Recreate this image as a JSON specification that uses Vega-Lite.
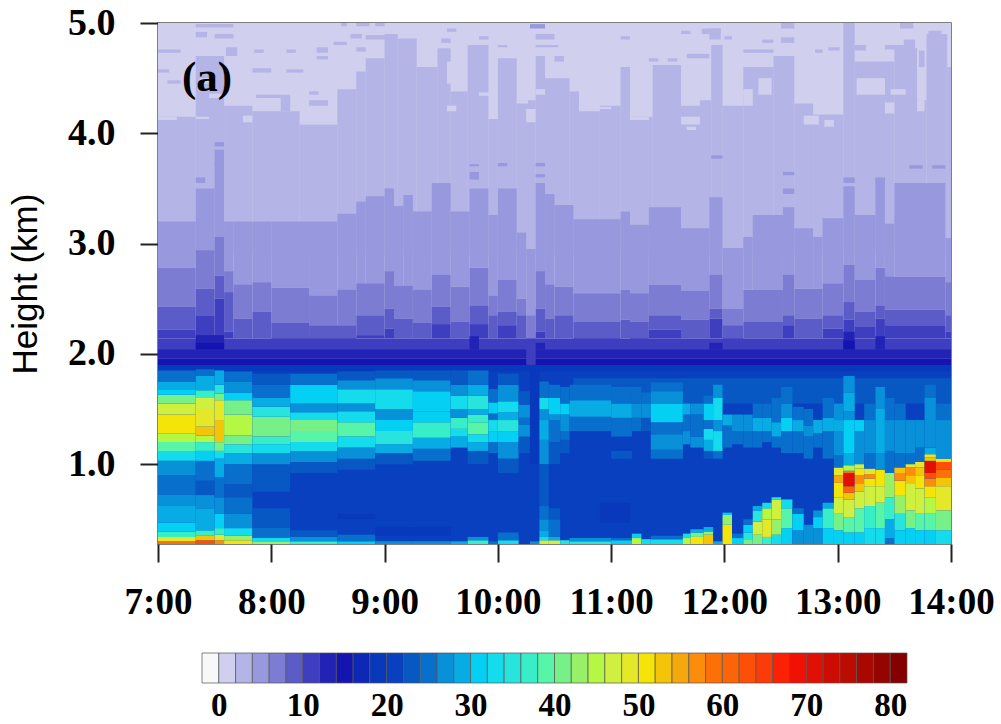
{"$schema":"https://vega.github.io/schema/vega-lite/v6.json","padding":{"left":7,"top":3,"right":5,"bottom":5},"background":"white","vconcat":[{"width":793,"height":521,"view":{"stroke":"#555","strokeWidth":1.5},"layer":[{"data":{"values":[
{"x0":420,"x1":840,"y0":0.27,"y1":5,"v":1},
{"x0":420,"x1":440,"y0":2.9,"y1":4.15,"v":3},{"x0":440,"x1":455,"y0":2.9,"y1":4.7,"v":3},{"x0":455,"x1":470,"y0":2.9,"y1":4.25,"v":3},{"x0":470,"x1":495,"y0":2.9,"y1":4.2,"v":3},{"x0":495,"x1":515,"y0":2.9,"y1":4.1,"v":3},{"x0":515,"x1":525,"y0":2.9,"y1":4.4,"v":3},{"x0":525,"x1":530,"y0":2.9,"y1":4.56,"v":3},{"x0":530,"x1":540,"y0":2.9,"y1":4.68,"v":3},{"x0":540,"x1":547,"y0":2.9,"y1":4.9,"v":3},{"x0":547,"x1":557,"y0":2.9,"y1":4.86,"v":3},{"x0":557,"x1":568,"y0":2.9,"y1":4.6,"v":3},{"x0":568,"x1":575,"y0":2.9,"y1":4.77,"v":3},{"x0":575,"x1":584,"y0":2.9,"y1":4.38,"v":3},{"x0":584,"x1":595,"y0":2.9,"y1":4.8,"v":3},{"x0":595,"x1":600,"y0":2.9,"y1":4.13,"v":3},{"x0":600,"x1":610,"y0":2.9,"y1":4.68,"v":3},{"x0":610,"x1":620,"y0":2.9,"y1":4.3,"v":3},{"x0":620,"x1":625,"y0":2.9,"y1":4.7,"v":3},{"x0":625,"x1":638,"y0":2.9,"y1":4.5,"v":3},{"x0":638,"x1":643,"y0":2.9,"y1":4.38,"v":3},{"x0":643,"x1":654,"y0":2.9,"y1":4.2,"v":3},{"x0":654,"x1":665,"y0":2.9,"y1":4.25,"v":3},{"x0":665,"x1":670,"y0":2.9,"y1":4.6,"v":3},{"x0":670,"x1":682,"y0":2.9,"y1":4.15,"v":3},{"x0":682,"x1":697,"y0":2.9,"y1":4.62,"v":3},{"x0":697,"x1":707,"y0":2.9,"y1":4.25,"v":3},{"x0":707,"x1":713,"y0":2.9,"y1":4.3,"v":3},{"x0":713,"x1":719,"y0":2.9,"y1":4.8,"v":3},{"x0":719,"x1":730,"y0":2.9,"y1":4.25,"v":3},{"x0":730,"x1":746,"y0":2.9,"y1":4.6,"v":3},{"x0":746,"x1":757,"y0":2.9,"y1":4.7,"v":3},{"x0":757,"x1":767,"y0":2.9,"y1":4.27,"v":3},{"x0":767,"x1":783,"y0":2.9,"y1":4.17,"v":3},{"x0":783,"x1":789,"y0":2.9,"y1":5,"v":3},{"x0":789,"x1":810,"y0":2.9,"y1":4.65,"v":3},{"x0":810,"x1":822,"y0":2.9,"y1":4.77,"v":3},{"x0":822,"x1":827,"y0":2.9,"y1":4.3,"v":3},{"x0":827,"x1":838,"y0":2.9,"y1":4.9,"v":3},{"x0":838,"x1":840,"y0":2.9,"y1":4.6,"v":3},
{"x0":420,"x1":432,"y0":4.73,"y1":4.76,"v":3},{"x0":440,"x1":460,"y0":4.96,"y1":4.99,"v":3},{"x0":440,"x1":446,"y0":4.87,"y1":4.92,"v":3},{"x0":450,"x1":460,"y0":4.86,"y1":4.9,"v":3},{"x0":456,"x1":462,"y0":4.7,"y1":4.78,"v":3},{"x0":420,"x1":426,"y0":4.55,"y1":4.58,"v":3},{"x0":425,"x1":432,"y0":4.45,"y1":4.48,"v":3},{"x0":470,"x1":480,"y0":4.55,"y1":4.59,"v":3},{"x0":471,"x1":476,"y0":4.73,"y1":4.76,"v":3},{"x0":488,"x1":493,"y0":4.73,"y1":4.76,"v":3},{"x0":488,"x1":497,"y0":4.55,"y1":4.58,"v":3},{"x0":472,"x1":485,"y0":4.32,"y1":4.35,"v":3},{"x0":485,"x1":490,"y0":4.2,"y1":4.35,"v":3},{"x0":500,"x1":505,"y0":4.35,"y1":4.38,"v":3},{"x0":500,"x1":510,"y0":4.25,"y1":4.3,"v":3},{"x0":504,"x1":510,"y0":4.73,"y1":4.78,"v":3},{"x0":504,"x1":510,"y0":4.67,"y1":4.7,"v":3},{"x0":513,"x1":520,"y0":4.8,"y1":4.83,"v":3},{"x0":517,"x1":520,"y0":4.97,"y1":5,"v":3},{"x0":525,"x1":532,"y0":4.97,"y1":5,"v":3},{"x0":535,"x1":540,"y0":4.97,"y1":5,"v":3},{"x0":522,"x1":528,"y0":4.86,"y1":4.9,"v":3},{"x0":530,"x1":545,"y0":4.85,"y1":4.89,"v":3},{"x0":525,"x1":530,"y0":4.74,"y1":4.78,"v":3},{"x0":620,"x1":630,"y0":4.85,"y1":4.9,"v":3},{"x0":620,"x1":632,"y0":4.78,"y1":4.8,"v":3},{"x0":570,"x1":575,"y0":4.82,"y1":4.86,"v":3},{"x0":573,"x1":578,"y0":4.92,"y1":4.95,"v":3},{"x0":590,"x1":595,"y0":4.85,"y1":4.88,"v":3},{"x0":600,"x1":605,"y0":4.78,"y1":4.8,"v":3},{"x0":630,"x1":635,"y0":4.65,"y1":4.7,"v":3},{"x0":665,"x1":670,"y0":4.85,"y1":4.88,"v":3},{"x0":680,"x1":685,"y0":4.65,"y1":4.68,"v":3},{"x0":690,"x1":695,"y0":4.65,"y1":4.68,"v":3},{"x0":700,"x1":712,"y0":4.68,"y1":4.72,"v":3},{"x0":712,"x1":718,"y0":4.85,"y1":4.95,"v":3},{"x0":697,"x1":702,"y0":4.9,"y1":4.93,"v":3},{"x0":708,"x1":718,"y0":4.9,"y1":4.95,"v":3},{"x0":720,"x1":724,"y0":4.85,"y1":4.88,"v":3},{"x0":730,"x1":746,"y0":4.73,"y1":4.76,"v":3},{"x0":750,"x1":757,"y0":4.95,"y1":5,"v":3},{"x0":740,"x1":746,"y0":4.82,"y1":4.85,"v":3},{"x0":750,"x1":757,"y0":4.82,"y1":4.87,"v":3},{"x0":768,"x1":772,"y0":4.73,"y1":4.76,"v":3},{"x0":775,"x1":781,"y0":4.75,"y1":4.78,"v":3},{"x0":789,"x1":795,"y0":4.75,"y1":4.8,"v":3},{"x0":805,"x1":815,"y0":4.76,"y1":4.8,"v":3},{"x0":813,"x1":820,"y0":4.95,"y1":5,"v":3},{"x0":815,"x1":821,"y0":4.75,"y1":4.85,"v":3},{"x0":823,"x1":826,"y0":4.6,"y1":4.75,"v":3},{"x0":828,"x1":835,"y0":4.9,"y1":4.93,"v":3},
{"x0":617,"x1":625,"y0":4.95,"y1":4.99,"v":5},
{"x0":447,"x1":455,"y0":4.32,"y1":4.36,"v":1},{"x0":442,"x1":450,"y0":4.45,"y1":4.5,"v":1},{"x0":420,"x1":430,"y0":4.12,"y1":4.15,"v":1},{"x0":440,"x1":447,"y0":4.13,"y1":4.15,"v":1},{"x0":465,"x1":470,"y0":4.1,"y1":4.16,"v":1},{"x0":495,"x1":515,"y0":4.08,"y1":4.1,"v":1},{"x0":573,"x1":578,"y0":4.2,"y1":4.25,"v":1},{"x0":573,"x1":578,"y0":4.45,"y1":4.65,"v":1},{"x0":590,"x1":597,"y0":4.34,"y1":4.37,"v":1},{"x0":610,"x1":616,"y0":4.27,"y1":4.3,"v":1},{"x0":615,"x1":620,"y0":4.1,"y1":4.22,"v":1},{"x0":620,"x1":625,"y0":4.35,"y1":4.4,"v":1},{"x0":650,"x1":660,"y0":4.22,"y1":4.24,"v":1},{"x0":670,"x1":680,"y0":4.12,"y1":4.15,"v":1},{"x0":697,"x1":707,"y0":4.08,"y1":4.15,"v":1},{"x0":700,"x1":705,"y0":4.03,"y1":4.06,"v":1},{"x0":730,"x1":735,"y0":4.25,"y1":4.4,"v":1},{"x0":738,"x1":745,"y0":4.35,"y1":4.5,"v":1},{"x0":790,"x1":805,"y0":4.35,"y1":4.5,"v":1},{"x0":805,"x1":810,"y0":4.18,"y1":4.28,"v":1},{"x0":808,"x1":816,"y0":4.35,"y1":4.4,"v":1},{"x0":822,"x1":826,"y0":4.2,"y1":4.3,"v":1},{"x0":762,"x1":770,"y0":4.08,"y1":4.16,"v":1},{"x0":773,"x1":778,"y0":4.06,"y1":4.12,"v":1},
{"x0":420,"x1":440,"y0":2.78,"y1":3.2,"v":5},{"x0":440,"x1":450,"y0":2.94,"y1":3.5,"v":5},{"x0":450,"x1":455,"y0":3.06,"y1":3.85,"v":5},{"x0":455,"x1":460,"y0":2.75,"y1":3.2,"v":5},{"x0":460,"x1":470,"y0":2.63,"y1":3.2,"v":5},{"x0":470,"x1":480,"y0":2.65,"y1":3.2,"v":5},{"x0":480,"x1":500,"y0":2.6,"y1":3.2,"v":5},{"x0":500,"x1":515,"y0":2.53,"y1":3.2,"v":5},{"x0":515,"x1":525,"y0":2.58,"y1":3.27,"v":5},{"x0":525,"x1":530,"y0":2.64,"y1":3.38,"v":5},{"x0":530,"x1":540,"y0":2.64,"y1":3.43,"v":5},{"x0":540,"x1":545,"y0":2.75,"y1":3.5,"v":5},{"x0":545,"x1":550,"y0":2.62,"y1":3.34,"v":5},{"x0":550,"x1":555,"y0":2.62,"y1":3.44,"v":5},{"x0":555,"x1":565,"y0":2.58,"y1":3.29,"v":5},{"x0":565,"x1":575,"y0":2.72,"y1":3.55,"v":5},{"x0":575,"x1":585,"y0":2.61,"y1":3.29,"v":5},{"x0":585,"x1":595,"y0":2.78,"y1":3.5,"v":5},{"x0":595,"x1":600,"y0":2.53,"y1":3.26,"v":5},{"x0":600,"x1":610,"y0":2.67,"y1":3.5,"v":5},{"x0":610,"x1":615,"y0":2.5,"y1":3.1,"v":5},{"x0":615,"x1":620,"y0":2.35,"y1":2.95,"v":5},{"x0":620,"x1":625,"y0":2.75,"y1":3.55,"v":5},{"x0":625,"x1":630,"y0":2.63,"y1":3.45,"v":5},{"x0":630,"x1":640,"y0":2.61,"y1":3.35,"v":5},{"x0":640,"x1":665,"y0":2.55,"y1":3.22,"v":5},{"x0":665,"x1":670,"y0":2.58,"y1":3.29,"v":5},{"x0":670,"x1":680,"y0":2.55,"y1":3.17,"v":5},{"x0":680,"x1":697,"y0":2.63,"y1":3.33,"v":5},{"x0":697,"x1":712,"y0":2.57,"y1":3.14,"v":5},{"x0":712,"x1":719,"y0":2.72,"y1":3.42,"v":5},{"x0":719,"x1":730,"y0":2.41,"y1":2.96,"v":5},{"x0":730,"x1":735,"y0":2.58,"y1":3.06,"v":5},{"x0":735,"x1":751,"y0":2.58,"y1":3.26,"v":5},{"x0":751,"x1":757,"y0":2.72,"y1":3.33,"v":5},{"x0":757,"x1":767,"y0":2.59,"y1":3.14,"v":5},{"x0":767,"x1":772,"y0":2.59,"y1":3.06,"v":5},{"x0":772,"x1":783,"y0":2.64,"y1":3.23,"v":5},{"x0":783,"x1":789,"y0":2.81,"y1":3.52,"v":5},{"x0":789,"x1":800,"y0":2.67,"y1":3.26,"v":5},{"x0":800,"x1":805,"y0":2.78,"y1":3.59,"v":5},{"x0":805,"x1":810,"y0":2.69,"y1":3.18,"v":5},{"x0":810,"x1":837,"y0":2.7,"y1":3.55,"v":5},{"x0":837,"x1":840,"y0":2.65,"y1":3.05,"v":5},
{"x0":450,"x1":455,"y0":3.88,"y1":3.92,"v":5},{"x0":450,"x1":455,"y0":3.7,"y1":3.73,"v":5},{"x0":440,"x1":445,"y0":3.55,"y1":3.6,"v":5},{"x0":585,"x1":590,"y0":3.7,"y1":3.72,"v":5},{"x0":600,"x1":605,"y0":3.7,"y1":3.73,"v":5},{"x0":620,"x1":625,"y0":3.7,"y1":3.73,"v":5},{"x0":620,"x1":625,"y0":3.6,"y1":3.63,"v":5},{"x0":585,"x1":590,"y0":3.58,"y1":3.65,"v":5},{"x0":713,"x1":719,"y0":3.77,"y1":3.8,"v":5},{"x0":783,"x1":789,"y0":3.55,"y1":3.6,"v":5},{"x0":800,"x1":805,"y0":3.55,"y1":3.6,"v":5},{"x0":818,"x1":825,"y0":3.68,"y1":3.71,"v":5},{"x0":830,"x1":837,"y0":3.68,"y1":3.71,"v":5},{"x0":751,"x1":757,"y0":3.62,"y1":3.65,"v":5},{"x0":751,"x1":757,"y0":3.45,"y1":3.5,"v":5},
{"x0":420,"x1":440,"y0":2.43,"y1":2.78,"v":7},{"x0":440,"x1":450,"y0":2.59,"y1":2.94,"v":7},{"x0":450,"x1":455,"y0":2.71,"y1":3.06,"v":7},{"x0":455,"x1":460,"y0":2.56,"y1":2.75,"v":7},{"x0":460,"x1":470,"y0":2.32,"y1":2.63,"v":7},{"x0":470,"x1":480,"y0":2.38,"y1":2.65,"v":7},{"x0":480,"x1":500,"y0":2.28,"y1":2.6,"v":7},{"x0":500,"x1":515,"y0":2.26,"y1":2.53,"v":7},{"x0":515,"x1":525,"y0":2.26,"y1":2.58,"v":7},{"x0":525,"x1":540,"y0":2.35,"y1":2.64,"v":7},{"x0":540,"x1":545,"y0":2.41,"y1":2.75,"v":7},{"x0":545,"x1":555,"y0":2.32,"y1":2.62,"v":7},{"x0":555,"x1":565,"y0":2.28,"y1":2.58,"v":7},{"x0":565,"x1":575,"y0":2.43,"y1":2.72,"v":7},{"x0":575,"x1":585,"y0":2.29,"y1":2.61,"v":7},{"x0":585,"x1":595,"y0":2.44,"y1":2.78,"v":7},{"x0":595,"x1":600,"y0":2.35,"y1":2.53,"v":7},{"x0":600,"x1":610,"y0":2.38,"y1":2.67,"v":7},{"x0":610,"x1":615,"y0":2.35,"y1":2.5,"v":7},{"x0":615,"x1":620,"y0":2.08,"y1":2.35,"v":7},{"x0":620,"x1":625,"y0":2.41,"y1":2.75,"v":7},{"x0":625,"x1":630,"y0":2.32,"y1":2.63,"v":7},{"x0":630,"x1":640,"y0":2.35,"y1":2.61,"v":7},{"x0":640,"x1":665,"y0":2.29,"y1":2.55,"v":7},{"x0":665,"x1":670,"y0":2.31,"y1":2.58,"v":7},{"x0":670,"x1":680,"y0":2.29,"y1":2.55,"v":7},{"x0":680,"x1":697,"y0":2.35,"y1":2.63,"v":7},{"x0":697,"x1":712,"y0":2.31,"y1":2.57,"v":7},{"x0":712,"x1":719,"y0":2.41,"y1":2.72,"v":7},{"x0":719,"x1":730,"y0":2.26,"y1":2.41,"v":7},{"x0":730,"x1":751,"y0":2.29,"y1":2.58,"v":7},{"x0":751,"x1":757,"y0":2.35,"y1":2.72,"v":7},{"x0":757,"x1":772,"y0":2.32,"y1":2.59,"v":7},{"x0":772,"x1":783,"y0":2.35,"y1":2.64,"v":7},{"x0":783,"x1":789,"y0":2.47,"y1":2.81,"v":7},{"x0":789,"x1":800,"y0":2.38,"y1":2.67,"v":7},{"x0":800,"x1":805,"y0":2.44,"y1":2.78,"v":7},{"x0":805,"x1":837,"y0":2.4,"y1":2.7,"v":7},{"x0":837,"x1":840,"y0":2.35,"y1":2.65,"v":7},
{"x0":420,"x1":440,"y0":2.22,"y1":2.43,"v":9},{"x0":440,"x1":450,"y0":2.35,"y1":2.59,"v":9},{"x0":450,"x1":455,"y0":2.5,"y1":2.71,"v":9},{"x0":455,"x1":460,"y0":2.2,"y1":2.56,"v":9},{"x0":460,"x1":470,"y0":2.14,"y1":2.32,"v":9},{"x0":470,"x1":480,"y0":2.14,"y1":2.38,"v":9},{"x0":480,"x1":500,"y0":2.13,"y1":2.28,"v":9},{"x0":500,"x1":525,"y0":2.1,"y1":2.26,"v":9},{"x0":525,"x1":540,"y0":2.17,"y1":2.35,"v":9},{"x0":540,"x1":545,"y0":2.23,"y1":2.41,"v":9},{"x0":545,"x1":555,"y0":2.14,"y1":2.32,"v":9},{"x0":555,"x1":565,"y0":2.14,"y1":2.28,"v":9},{"x0":565,"x1":575,"y0":2.27,"y1":2.43,"v":9},{"x0":575,"x1":585,"y0":2.14,"y1":2.29,"v":9},{"x0":585,"x1":595,"y0":2.27,"y1":2.44,"v":9},{"x0":595,"x1":600,"y0":2.14,"y1":2.35,"v":9},{"x0":600,"x1":610,"y0":2.26,"y1":2.38,"v":9},{"x0":610,"x1":615,"y0":2.14,"y1":2.35,"v":9},{"x0":615,"x1":620,"y0":2.05,"y1":2.08,"v":9},{"x0":620,"x1":625,"y0":2.2,"y1":2.41,"v":9},{"x0":625,"x1":630,"y0":2.14,"y1":2.32,"v":9},{"x0":630,"x1":640,"y0":2.14,"y1":2.35,"v":9},{"x0":640,"x1":665,"y0":2.13,"y1":2.29,"v":9},{"x0":665,"x1":670,"y0":2.14,"y1":2.31,"v":9},{"x0":670,"x1":680,"y0":2.13,"y1":2.29,"v":9},{"x0":680,"x1":697,"y0":2.22,"y1":2.35,"v":9},{"x0":697,"x1":712,"y0":2.14,"y1":2.31,"v":9},{"x0":712,"x1":719,"y0":2.32,"y1":2.41,"v":9},{"x0":719,"x1":730,"y0":2.1,"y1":2.26,"v":9},{"x0":730,"x1":751,"y0":2.14,"y1":2.29,"v":9},{"x0":751,"x1":757,"y0":2.26,"y1":2.35,"v":9},{"x0":757,"x1":772,"y0":2.14,"y1":2.32,"v":9},{"x0":772,"x1":783,"y0":2.23,"y1":2.35,"v":9},{"x0":783,"x1":789,"y0":2.31,"y1":2.47,"v":9},{"x0":789,"x1":800,"y0":2.25,"y1":2.38,"v":9},{"x0":800,"x1":805,"y0":2.32,"y1":2.44,"v":9},{"x0":805,"x1":837,"y0":2.26,"y1":2.4,"v":9},{"x0":837,"x1":840,"y0":2.2,"y1":2.35,"v":9},
{"x0":420,"x1":840,"y0":2.03,"y1":2.14,"v":11},{"x0":420,"x1":440,"y0":2.14,"y1":2.22,"v":11},{"x0":440,"x1":450,"y0":2.14,"y1":2.35,"v":11},{"x0":450,"x1":455,"y0":2.14,"y1":2.5,"v":11},{"x0":455,"x1":460,"y0":2.14,"y1":2.2,"v":11},{"x0":525,"x1":540,"y0":2.14,"y1":2.17,"v":11},{"x0":540,"x1":545,"y0":2.14,"y1":2.23,"v":11},{"x0":565,"x1":575,"y0":2.14,"y1":2.27,"v":11},{"x0":585,"x1":595,"y0":2.14,"y1":2.27,"v":11},{"x0":600,"x1":610,"y0":2.14,"y1":2.26,"v":11},{"x0":620,"x1":625,"y0":2.14,"y1":2.2,"v":11},{"x0":680,"x1":697,"y0":2.14,"y1":2.22,"v":11},{"x0":712,"x1":719,"y0":2.14,"y1":2.32,"v":11},{"x0":751,"x1":757,"y0":2.14,"y1":2.26,"v":11},{"x0":772,"x1":783,"y0":2.14,"y1":2.23,"v":11},{"x0":783,"x1":789,"y0":2.14,"y1":2.31,"v":11},{"x0":789,"x1":800,"y0":2.14,"y1":2.25,"v":11},{"x0":800,"x1":805,"y0":2.14,"y1":2.32,"v":11},{"x0":805,"x1":837,"y0":2.14,"y1":2.26,"v":11},{"x0":837,"x1":840,"y0":2.14,"y1":2.2,"v":11},
{"x0":420,"x1":840,"y0":1.96,"y1":2.04,"v":13},{"x0":440,"x1":455,"y0":2.04,"y1":2.17,"v":13},{"x0":585,"x1":590,"y0":2.04,"y1":2.16,"v":13},{"x0":620,"x1":625,"y0":2.04,"y1":2.1,"v":13},{"x0":712,"x1":719,"y0":2.04,"y1":2.1,"v":13},{"x0":783,"x1":789,"y0":2.04,"y1":2.2,"v":13},{"x0":800,"x1":805,"y0":2.04,"y1":2.16,"v":13},
{"x0":420,"x1":840,"y0":1.9,"y1":1.96,"v":15},{"x0":440,"x1":455,"y0":2.04,"y1":2.1,"v":15},{"x0":783,"x1":789,"y0":2.04,"y1":2.12,"v":15},{"x0":615,"x1":620,"y0":1.9,"y1":2.05,"v":11},
{"x0":420,"x1":840,"y0":0.27,"y1":1.9,"v":21},{"x0":420,"x1":840,"y0":1.84,"y1":1.9,"v":19},{"x0":640,"x1":840,"y0":1.55,"y1":1.78,"v":23},
{"x0":420,"x1":440,"y0":0.27,"y1":0.3,"v":59},{"x0":420,"x1":440,"y0":0.3,"y1":0.34,"v":49},{"x0":420,"x1":440,"y0":0.34,"y1":0.39,"v":37},{"x0":420,"x1":440,"y0":0.39,"y1":0.47,"v":31},{"x0":420,"x1":440,"y0":0.47,"y1":0.62,"v":29},{"x0":420,"x1":440,"y0":0.62,"y1":0.72,"v":27},{"x0":420,"x1":440,"y0":0.72,"y1":0.9,"v":25},{"x0":420,"x1":440,"y0":0.9,"y1":1.03,"v":27},{"x0":420,"x1":440,"y0":1.03,"y1":1.12,"v":33},{"x0":420,"x1":440,"y0":1.12,"y1":1.2,"v":39},{"x0":420,"x1":440,"y0":1.2,"y1":1.28,"v":45},{"x0":420,"x1":440,"y0":1.28,"y1":1.45,"v":51},{"x0":420,"x1":440,"y0":1.45,"y1":1.55,"v":47},{"x0":420,"x1":440,"y0":1.55,"y1":1.63,"v":41},{"x0":420,"x1":440,"y0":1.63,"y1":1.68,"v":31},{"x0":420,"x1":440,"y0":1.68,"y1":1.75,"v":29},{"x0":420,"x1":440,"y0":1.75,"y1":1.85,"v":25},
{"x0":440,"x1":450,"y0":0.27,"y1":0.31,"v":63},{"x0":440,"x1":450,"y0":0.31,"y1":0.35,"v":53},{"x0":440,"x1":450,"y0":0.35,"y1":0.4,"v":37},{"x0":440,"x1":450,"y0":0.4,"y1":0.6,"v":29},{"x0":440,"x1":450,"y0":0.6,"y1":0.72,"v":27},{"x0":440,"x1":450,"y0":0.72,"y1":0.85,"v":23},{"x0":440,"x1":450,"y0":0.85,"y1":1.03,"v":25},{"x0":440,"x1":450,"y0":1.03,"y1":1.12,"v":31},{"x0":440,"x1":450,"y0":1.12,"y1":1.2,"v":37},{"x0":440,"x1":450,"y0":1.2,"y1":1.26,"v":45},{"x0":440,"x1":450,"y0":1.26,"y1":1.34,"v":53},{"x0":440,"x1":450,"y0":1.34,"y1":1.5,"v":49},{"x0":440,"x1":450,"y0":1.5,"y1":1.6,"v":47},{"x0":440,"x1":450,"y0":1.6,"y1":1.67,"v":37},{"x0":440,"x1":450,"y0":1.67,"y1":1.8,"v":29},{"x0":440,"x1":450,"y0":1.8,"y1":1.86,"v":25},
{"x0":450,"x1":455,"y0":0.27,"y1":0.31,"v":57},{"x0":450,"x1":455,"y0":0.31,"y1":0.36,"v":49},{"x0":450,"x1":455,"y0":0.36,"y1":0.42,"v":37},{"x0":450,"x1":455,"y0":0.42,"y1":0.55,"v":31},{"x0":450,"x1":455,"y0":0.55,"y1":0.7,"v":27},{"x0":450,"x1":455,"y0":0.7,"y1":0.88,"v":25},{"x0":450,"x1":455,"y0":0.88,"y1":1.05,"v":29},{"x0":450,"x1":455,"y0":1.05,"y1":1.12,"v":33},{"x0":450,"x1":455,"y0":1.12,"y1":1.2,"v":41},{"x0":450,"x1":455,"y0":1.2,"y1":1.4,"v":53},{"x0":450,"x1":455,"y0":1.4,"y1":1.58,"v":49},{"x0":450,"x1":455,"y0":1.58,"y1":1.64,"v":41},{"x0":450,"x1":455,"y0":1.64,"y1":1.72,"v":35},{"x0":450,"x1":455,"y0":1.72,"y1":1.85,"v":29},
{"x0":455,"x1":470,"y0":0.27,"y1":0.31,"v":51},{"x0":455,"x1":470,"y0":0.31,"y1":0.35,"v":43},{"x0":455,"x1":470,"y0":0.35,"y1":0.42,"v":33},{"x0":455,"x1":470,"y0":0.42,"y1":0.55,"v":27},{"x0":455,"x1":470,"y0":0.55,"y1":0.7,"v":25},{"x0":455,"x1":470,"y0":0.7,"y1":0.82,"v":23},{"x0":455,"x1":470,"y0":0.82,"y1":1,"v":25},{"x0":455,"x1":470,"y0":1,"y1":1.1,"v":29},{"x0":455,"x1":470,"y0":1.1,"y1":1.18,"v":35},{"x0":455,"x1":470,"y0":1.18,"y1":1.26,"v":41},{"x0":455,"x1":470,"y0":1.26,"y1":1.45,"v":45},{"x0":455,"x1":470,"y0":1.45,"y1":1.58,"v":41},{"x0":455,"x1":470,"y0":1.58,"y1":1.65,"v":31},{"x0":455,"x1":470,"y0":1.65,"y1":1.75,"v":27},{"x0":455,"x1":470,"y0":1.75,"y1":1.84,"v":25},
{"x0":470,"x1":490,"y0":0.27,"y1":0.3,"v":43},{"x0":470,"x1":490,"y0":0.3,"y1":0.33,"v":33},{"x0":470,"x1":490,"y0":0.33,"y1":0.42,"v":25},{"x0":470,"x1":490,"y0":0.42,"y1":0.6,"v":23},{"x0":470,"x1":490,"y0":0.75,"y1":1,"v":23},{"x0":470,"x1":490,"y0":1,"y1":1.1,"v":27},{"x0":470,"x1":490,"y0":1.1,"y1":1.18,"v":33},{"x0":470,"x1":490,"y0":1.18,"y1":1.25,"v":37},{"x0":470,"x1":490,"y0":1.25,"y1":1.43,"v":41},{"x0":470,"x1":490,"y0":1.43,"y1":1.52,"v":35},{"x0":470,"x1":490,"y0":1.52,"y1":1.6,"v":29},{"x0":470,"x1":490,"y0":1.6,"y1":1.72,"v":25},{"x0":470,"x1":490,"y0":1.72,"y1":1.82,"v":23},
{"x0":490,"x1":515,"y0":0.27,"y1":0.3,"v":37},{"x0":490,"x1":515,"y0":0.3,"y1":0.34,"v":27},{"x0":490,"x1":515,"y0":0.34,"y1":0.4,"v":23},{"x0":490,"x1":515,"y0":0.92,"y1":1.02,"v":23},{"x0":490,"x1":515,"y0":1.02,"y1":1.12,"v":27},{"x0":490,"x1":515,"y0":1.12,"y1":1.2,"v":33},{"x0":490,"x1":515,"y0":1.2,"y1":1.3,"v":39},{"x0":490,"x1":515,"y0":1.3,"y1":1.4,"v":41},{"x0":490,"x1":515,"y0":1.4,"y1":1.47,"v":33},{"x0":490,"x1":515,"y0":1.47,"y1":1.55,"v":27},{"x0":490,"x1":515,"y0":1.55,"y1":1.72,"v":31},{"x0":490,"x1":515,"y0":1.72,"y1":1.82,"v":25},
{"x0":515,"x1":535,"y0":0.27,"y1":0.3,"v":31},{"x0":515,"x1":535,"y0":0.3,"y1":0.36,"v":25},{"x0":515,"x1":535,"y0":0.5,"y1":0.55,"v":19},{"x0":515,"x1":535,"y0":0.95,"y1":1.05,"v":23},{"x0":515,"x1":535,"y0":1.05,"y1":1.15,"v":27},{"x0":515,"x1":535,"y0":1.15,"y1":1.25,"v":33},{"x0":515,"x1":535,"y0":1.25,"y1":1.38,"v":39},{"x0":515,"x1":535,"y0":1.38,"y1":1.48,"v":33},{"x0":515,"x1":535,"y0":1.48,"y1":1.55,"v":27},{"x0":515,"x1":535,"y0":1.55,"y1":1.68,"v":33},{"x0":515,"x1":535,"y0":1.68,"y1":1.76,"v":27},{"x0":515,"x1":535,"y0":1.76,"y1":1.84,"v":23},
{"x0":535,"x1":555,"y0":0.27,"y1":0.3,"v":27},{"x0":535,"x1":555,"y0":0.35,"y1":0.43,"v":19},{"x0":535,"x1":555,"y0":1,"y1":1.1,"v":23},{"x0":535,"x1":555,"y0":1.1,"y1":1.18,"v":29},{"x0":535,"x1":555,"y0":1.18,"y1":1.3,"v":35},{"x0":535,"x1":555,"y0":1.3,"y1":1.4,"v":31},{"x0":535,"x1":555,"y0":1.4,"y1":1.5,"v":27},{"x0":535,"x1":555,"y0":1.5,"y1":1.68,"v":33},{"x0":535,"x1":555,"y0":1.68,"y1":1.78,"v":27},{"x0":535,"x1":555,"y0":1.78,"y1":1.85,"v":23},
{"x0":555,"x1":575,"y0":0.27,"y1":0.3,"v":27},{"x0":555,"x1":575,"y0":0.35,"y1":0.43,"v":19},{"x0":555,"x1":575,"y0":1.03,"y1":1.14,"v":25},{"x0":555,"x1":575,"y0":1.14,"y1":1.24,"v":29},{"x0":555,"x1":575,"y0":1.24,"y1":1.38,"v":37},{"x0":555,"x1":575,"y0":1.38,"y1":1.48,"v":31},{"x0":555,"x1":575,"y0":1.48,"y1":1.66,"v":31},{"x0":555,"x1":575,"y0":1.66,"y1":1.76,"v":27},{"x0":555,"x1":575,"y0":1.76,"y1":1.85,"v":23},
{"x0":575,"x1":584,"y0":0.27,"y1":0.3,"v":29},{"x0":575,"x1":584,"y0":1.15,"y1":1.25,"v":29},{"x0":575,"x1":584,"y0":1.25,"y1":1.32,"v":33},{"x0":575,"x1":584,"y0":1.32,"y1":1.42,"v":37},{"x0":575,"x1":584,"y0":1.42,"y1":1.5,"v":27},{"x0":575,"x1":584,"y0":1.5,"y1":1.62,"v":33},{"x0":575,"x1":584,"y0":1.62,"y1":1.72,"v":27},{"x0":575,"x1":584,"y0":1.72,"y1":1.85,"v":23},
{"x0":584,"x1":595,"y0":0.27,"y1":0.31,"v":37},{"x0":584,"x1":595,"y0":0.31,"y1":0.34,"v":27},{"x0":584,"x1":595,"y0":1,"y1":1.12,"v":23},{"x0":584,"x1":595,"y0":1.12,"y1":1.2,"v":29},{"x0":584,"x1":595,"y0":1.2,"y1":1.27,"v":33},{"x0":584,"x1":595,"y0":1.27,"y1":1.38,"v":39},{"x0":584,"x1":595,"y0":1.38,"y1":1.45,"v":37},{"x0":584,"x1":595,"y0":1.45,"y1":1.5,"v":29},{"x0":584,"x1":595,"y0":1.5,"y1":1.62,"v":35},{"x0":584,"x1":595,"y0":1.62,"y1":1.72,"v":29},{"x0":584,"x1":595,"y0":1.72,"y1":1.85,"v":25},
{"x0":595,"x1":600,"y0":0.27,"y1":0.3,"v":25},{"x0":595,"x1":600,"y0":1.1,"y1":1.2,"v":25},{"x0":595,"x1":600,"y0":1.2,"y1":1.3,"v":31},{"x0":595,"x1":600,"y0":1.3,"y1":1.4,"v":33},{"x0":595,"x1":600,"y0":1.4,"y1":1.46,"v":25},{"x0":595,"x1":600,"y0":1.46,"y1":1.56,"v":31},{"x0":595,"x1":600,"y0":1.56,"y1":1.68,"v":25},
{"x0":600,"x1":611,"y0":0.27,"y1":0.31,"v":33},{"x0":600,"x1":611,"y0":0.31,"y1":0.38,"v":25},{"x0":600,"x1":611,"y0":0.92,"y1":1.05,"v":23},{"x0":600,"x1":611,"y0":1.05,"y1":1.2,"v":27},{"x0":600,"x1":611,"y0":1.2,"y1":1.3,"v":31},{"x0":600,"x1":611,"y0":1.3,"y1":1.4,"v":35},{"x0":600,"x1":611,"y0":1.4,"y1":1.47,"v":29},{"x0":600,"x1":611,"y0":1.47,"y1":1.57,"v":33},{"x0":600,"x1":611,"y0":1.57,"y1":1.72,"v":27},{"x0":600,"x1":611,"y0":1.72,"y1":1.82,"v":23},
{"x0":611,"x1":617,"y0":1.1,"y1":1.25,"v":23},{"x0":611,"x1":617,"y0":1.25,"y1":1.36,"v":27},{"x0":611,"x1":617,"y0":1.36,"y1":1.42,"v":25},{"x0":611,"x1":617,"y0":1.42,"y1":1.54,"v":27},{"x0":611,"x1":617,"y0":1.54,"y1":1.66,"v":23},
{"x0":617,"x1":622,"y0":1,"y1":1.86,"v":19},{"x0":617,"x1":622,"y0":0.27,"y1":0.3,"v":27},
{"x0":622,"x1":627,"y0":0.27,"y1":0.31,"v":47},{"x0":622,"x1":627,"y0":0.31,"y1":0.34,"v":33},{"x0":622,"x1":627,"y0":0.34,"y1":0.4,"v":29},{"x0":622,"x1":627,"y0":0.4,"y1":0.5,"v":27},{"x0":622,"x1":627,"y0":0.5,"y1":0.62,"v":25},{"x0":622,"x1":627,"y0":0.62,"y1":1,"v":23},{"x0":622,"x1":627,"y0":1,"y1":1.22,"v":27},{"x0":622,"x1":627,"y0":1.22,"y1":1.4,"v":29},{"x0":622,"x1":627,"y0":1.4,"y1":1.5,"v":27},{"x0":622,"x1":627,"y0":1.5,"y1":1.6,"v":33},{"x0":622,"x1":627,"y0":1.6,"y1":1.75,"v":25},
{"x0":627,"x1":633,"y0":0.27,"y1":0.31,"v":47},{"x0":627,"x1":633,"y0":0.31,"y1":0.34,"v":29},{"x0":627,"x1":633,"y0":0.34,"y1":0.5,"v":25},{"x0":627,"x1":633,"y0":0.5,"y1":0.6,"v":23},{"x0":627,"x1":633,"y0":1,"y1":1.2,"v":23},{"x0":627,"x1":633,"y0":1.2,"y1":1.4,"v":25},{"x0":627,"x1":633,"y0":1.4,"y1":1.45,"v":27},{"x0":627,"x1":633,"y0":1.45,"y1":1.6,"v":31},{"x0":627,"x1":633,"y0":1.6,"y1":1.72,"v":25},
{"x0":633,"x1":638,"y0":0.27,"y1":0.31,"v":35},{"x0":633,"x1":638,"y0":1.1,"y1":1.22,"v":23},{"x0":633,"x1":638,"y0":1.22,"y1":1.3,"v":25},{"x0":633,"x1":638,"y0":1.3,"y1":1.45,"v":27},{"x0":633,"x1":638,"y0":1.45,"y1":1.55,"v":31},{"x0":633,"x1":638,"y0":1.55,"y1":1.7,"v":25},
{"x0":638,"x1":660,"y0":0.27,"y1":0.3,"v":35},{"x0":638,"x1":660,"y0":0.3,"y1":0.33,"v":27},{"x0":638,"x1":660,"y0":1.3,"y1":1.43,"v":25},{"x0":638,"x1":660,"y0":1.43,"y1":1.58,"v":29},{"x0":638,"x1":660,"y0":1.58,"y1":1.72,"v":25},{"x0":654,"x1":670,"y0":0.47,"y1":0.65,"v":19},
{"x0":660,"x1":671,"y0":0.27,"y1":0.31,"v":31},{"x0":660,"x1":671,"y0":0.31,"y1":0.33,"v":25},{"x0":660,"x1":671,"y0":1.05,"y1":1.12,"v":23},{"x0":660,"x1":671,"y0":1.25,"y1":1.42,"v":25},{"x0":660,"x1":671,"y0":1.42,"y1":1.55,"v":29},{"x0":660,"x1":671,"y0":1.55,"y1":1.7,"v":25},
{"x0":671,"x1":676,"y0":0.27,"y1":0.33,"v":45},{"x0":671,"x1":676,"y0":0.33,"y1":0.37,"v":31},{"x0":671,"x1":676,"y0":1.3,"y1":1.42,"v":25},{"x0":671,"x1":676,"y0":1.42,"y1":1.55,"v":27},{"x0":671,"x1":676,"y0":1.55,"y1":1.7,"v":25},
{"x0":676,"x1":681,"y0":0.27,"y1":0.32,"v":33},{"x0":676,"x1":681,"y0":1.3,"y1":1.42,"v":23},{"x0":676,"x1":681,"y0":1.42,"y1":1.55,"v":27},{"x0":676,"x1":681,"y0":1.55,"y1":1.65,"v":25},
{"x0":681,"x1":698,"y0":0.27,"y1":0.32,"v":33},{"x0":681,"x1":698,"y0":0.32,"y1":0.35,"v":25},{"x0":681,"x1":698,"y0":1.05,"y1":1.13,"v":25},{"x0":681,"x1":698,"y0":1.13,"y1":1.27,"v":27},{"x0":681,"x1":698,"y0":1.27,"y1":1.38,"v":25},{"x0":681,"x1":698,"y0":1.38,"y1":1.55,"v":31},{"x0":681,"x1":698,"y0":1.55,"y1":1.66,"v":27},{"x0":681,"x1":698,"y0":1.66,"y1":1.74,"v":25},
{"x0":698,"x1":702,"y0":0.27,"y1":0.33,"v":45},{"x0":698,"x1":702,"y0":0.33,"y1":0.37,"v":33},{"x0":698,"x1":702,"y0":1.18,"y1":1.3,"v":27},{"x0":698,"x1":702,"y0":1.3,"y1":1.45,"v":25},{"x0":698,"x1":702,"y0":1.45,"y1":1.55,"v":29},
{"x0":702,"x1":709,"y0":0.27,"y1":0.34,"v":51},{"x0":702,"x1":709,"y0":0.34,"y1":0.38,"v":41},{"x0":702,"x1":709,"y0":0.38,"y1":0.41,"v":29},{"x0":702,"x1":709,"y0":1.15,"y1":1.25,"v":27},{"x0":702,"x1":709,"y0":1.25,"y1":1.45,"v":25},{"x0":702,"x1":709,"y0":1.45,"y1":1.55,"v":27},
{"x0":709,"x1":714,"y0":0.27,"y1":0.36,"v":53},{"x0":709,"x1":714,"y0":0.36,"y1":0.39,"v":43},{"x0":709,"x1":714,"y0":0.39,"y1":0.43,"v":29},{"x0":709,"x1":714,"y0":1.05,"y1":1.12,"v":23},{"x0":709,"x1":714,"y0":1.12,"y1":1.22,"v":29},{"x0":709,"x1":714,"y0":1.22,"y1":1.32,"v":33},{"x0":709,"x1":714,"y0":1.32,"y1":1.4,"v":25},{"x0":709,"x1":714,"y0":1.4,"y1":1.55,"v":31},{"x0":709,"x1":714,"y0":1.55,"y1":1.62,"v":25},
{"x0":714,"x1":719,"y0":0.27,"y1":0.3,"v":29},{"x0":714,"x1":719,"y0":1.05,"y1":1.12,"v":25},{"x0":714,"x1":719,"y0":1.12,"y1":1.3,"v":33},{"x0":714,"x1":719,"y0":1.3,"y1":1.4,"v":27},{"x0":714,"x1":719,"y0":1.4,"y1":1.6,"v":33},{"x0":714,"x1":719,"y0":1.6,"y1":1.72,"v":27},
{"x0":719,"x1":724,"y0":0.27,"y1":0.45,"v":51},{"x0":719,"x1":724,"y0":0.45,"y1":0.54,"v":43},{"x0":719,"x1":724,"y0":0.54,"y1":0.56,"v":31},{"x0":719,"x1":724,"y0":1.15,"y1":1.35,"v":25},{"x0":719,"x1":724,"y0":1.35,"y1":1.45,"v":29},
{"x0":724,"x1":730,"y0":0.27,"y1":0.33,"v":31},{"x0":724,"x1":730,"y0":0.33,"y1":0.37,"v":25},{"x0":724,"x1":730,"y0":1.18,"y1":1.3,"v":25},{"x0":724,"x1":730,"y0":1.3,"y1":1.45,"v":27},
{"x0":730,"x1":735,"y0":0.27,"y1":0.32,"v":41},{"x0":730,"x1":735,"y0":0.32,"y1":0.38,"v":35},{"x0":730,"x1":735,"y0":0.38,"y1":0.45,"v":31},{"x0":730,"x1":735,"y0":0.45,"y1":0.5,"v":25},{"x0":730,"x1":735,"y0":1.15,"y1":1.3,"v":25},{"x0":730,"x1":735,"y0":1.3,"y1":1.45,"v":27},
{"x0":735,"x1":740,"y0":0.27,"y1":0.36,"v":41},{"x0":735,"x1":740,"y0":0.36,"y1":0.48,"v":47},{"x0":735,"x1":740,"y0":0.48,"y1":0.58,"v":35},{"x0":735,"x1":740,"y0":0.58,"y1":0.62,"v":29},{"x0":735,"x1":740,"y0":1.15,"y1":1.3,"v":25},{"x0":735,"x1":740,"y0":1.3,"y1":1.42,"v":29},{"x0":735,"x1":740,"y0":1.42,"y1":1.55,"v":25},
{"x0":740,"x1":745,"y0":0.27,"y1":0.34,"v":37},{"x0":740,"x1":745,"y0":0.34,"y1":0.5,"v":49},{"x0":740,"x1":745,"y0":0.5,"y1":0.6,"v":45},{"x0":740,"x1":745,"y0":0.6,"y1":0.65,"v":33},{"x0":740,"x1":745,"y0":1.2,"y1":1.3,"v":25},{"x0":740,"x1":745,"y0":1.3,"y1":1.42,"v":29},{"x0":740,"x1":745,"y0":1.42,"y1":1.55,"v":25},
{"x0":745,"x1":750,"y0":0.27,"y1":0.36,"v":33},{"x0":745,"x1":750,"y0":0.36,"y1":0.5,"v":43},{"x0":745,"x1":750,"y0":0.5,"y1":0.68,"v":47},{"x0":745,"x1":750,"y0":0.68,"y1":0.7,"v":35},{"x0":745,"x1":750,"y0":1.15,"y1":1.25,"v":25},{"x0":745,"x1":750,"y0":1.25,"y1":1.38,"v":29},{"x0":745,"x1":750,"y0":1.38,"y1":1.6,"v":25},
{"x0":750,"x1":756,"y0":0.27,"y1":0.42,"v":31},{"x0":750,"x1":756,"y0":0.42,"y1":0.6,"v":39},{"x0":750,"x1":756,"y0":0.6,"y1":0.68,"v":33},{"x0":750,"x1":756,"y0":1.1,"y1":1.3,"v":25},{"x0":750,"x1":756,"y0":1.3,"y1":1.42,"v":31},{"x0":750,"x1":756,"y0":1.42,"y1":1.55,"v":27},{"x0":750,"x1":756,"y0":1.55,"y1":1.7,"v":25},
{"x0":756,"x1":762,"y0":0.27,"y1":0.4,"v":27},{"x0":756,"x1":762,"y0":0.4,"y1":0.55,"v":31},{"x0":756,"x1":762,"y0":0.55,"y1":0.6,"v":25},{"x0":756,"x1":762,"y0":1.1,"y1":1.3,"v":25},{"x0":756,"x1":762,"y0":1.3,"y1":1.4,"v":29},{"x0":756,"x1":762,"y0":1.4,"y1":1.52,"v":25},
{"x0":762,"x1":767,"y0":0.27,"y1":0.45,"v":27},{"x0":762,"x1":767,"y0":1.05,"y1":1.25,"v":25},{"x0":762,"x1":767,"y0":1.25,"y1":1.35,"v":27},{"x0":762,"x1":767,"y0":1.35,"y1":1.5,"v":25},
{"x0":767,"x1":772,"y0":0.27,"y1":0.42,"v":27},{"x0":767,"x1":772,"y0":0.42,"y1":0.52,"v":31},{"x0":767,"x1":772,"y0":0.52,"y1":0.58,"v":27},{"x0":767,"x1":772,"y0":1.15,"y1":1.28,"v":25},{"x0":767,"x1":772,"y0":1.28,"y1":1.4,"v":29},
{"x0":772,"x1":778,"y0":0.27,"y1":0.42,"v":31},{"x0":772,"x1":778,"y0":0.42,"y1":0.6,"v":37},{"x0":772,"x1":778,"y0":0.6,"y1":0.65,"v":29},{"x0":772,"x1":778,"y0":1.05,"y1":1.3,"v":25},{"x0":772,"x1":778,"y0":1.3,"y1":1.42,"v":29},{"x0":772,"x1":778,"y0":1.42,"y1":1.6,"v":25},
{"x0":778,"x1":783,"y0":0.27,"y1":0.4,"v":31},{"x0":778,"x1":783,"y0":0.4,"y1":0.55,"v":41},{"x0":778,"x1":783,"y0":0.55,"y1":0.7,"v":47},{"x0":778,"x1":783,"y0":0.7,"y1":0.83,"v":51},{"x0":778,"x1":783,"y0":0.83,"y1":0.9,"v":55},{"x0":778,"x1":783,"y0":0.9,"y1":0.97,"v":49},{"x0":778,"x1":783,"y0":0.97,"y1":1.08,"v":25},{"x0":778,"x1":783,"y0":1.08,"y1":1.3,"v":27},{"x0":778,"x1":783,"y0":1.3,"y1":1.4,"v":29},{"x0":778,"x1":783,"y0":1.4,"y1":1.55,"v":27},
{"x0":783,"x1":789,"y0":0.27,"y1":0.38,"v":31},{"x0":783,"x1":789,"y0":0.38,"y1":0.52,"v":39},{"x0":783,"x1":789,"y0":0.52,"y1":0.68,"v":47},{"x0":783,"x1":789,"y0":0.68,"y1":0.74,"v":53},{"x0":783,"x1":789,"y0":0.74,"y1":0.8,"v":61},{"x0":783,"x1":789,"y0":0.8,"y1":0.92,"v":71},{"x0":783,"x1":789,"y0":0.92,"y1":0.94,"v":59},{"x0":783,"x1":789,"y0":0.94,"y1":0.99,"v":45},{"x0":783,"x1":789,"y0":0.99,"y1":1.1,"v":29},{"x0":783,"x1":789,"y0":1.1,"y1":1.4,"v":31},{"x0":783,"x1":789,"y0":1.4,"y1":1.48,"v":27},{"x0":783,"x1":789,"y0":1.48,"y1":1.65,"v":29},{"x0":783,"x1":789,"y0":1.65,"y1":1.8,"v":27},
{"x0":789,"x1":794,"y0":0.27,"y1":0.38,"v":31},{"x0":789,"x1":794,"y0":0.38,"y1":0.6,"v":39},{"x0":789,"x1":794,"y0":0.6,"y1":0.75,"v":47},{"x0":789,"x1":794,"y0":0.75,"y1":0.82,"v":53},{"x0":789,"x1":794,"y0":0.82,"y1":0.9,"v":57},{"x0":789,"x1":794,"y0":0.9,"y1":0.96,"v":51},{"x0":789,"x1":794,"y0":0.96,"y1":1,"v":47},{"x0":789,"x1":794,"y0":1,"y1":1.3,"v":27},{"x0":789,"x1":794,"y0":1.3,"y1":1.4,"v":31},
{"x0":794,"x1":800,"y0":0.27,"y1":0.42,"v":33},{"x0":794,"x1":800,"y0":0.42,"y1":0.62,"v":37},{"x0":794,"x1":800,"y0":0.62,"y1":0.8,"v":47},{"x0":794,"x1":800,"y0":0.8,"y1":0.87,"v":51},{"x0":794,"x1":800,"y0":0.87,"y1":0.91,"v":57},{"x0":794,"x1":800,"y0":0.91,"y1":0.96,"v":49},{"x0":794,"x1":800,"y0":0.96,"y1":1.1,"v":25},{"x0":794,"x1":800,"y0":1.1,"y1":1.4,"v":27},{"x0":794,"x1":800,"y0":1.4,"y1":1.55,"v":25},
{"x0":800,"x1":805,"y0":0.27,"y1":0.42,"v":33},{"x0":800,"x1":805,"y0":0.42,"y1":0.65,"v":39},{"x0":800,"x1":805,"y0":0.65,"y1":0.8,"v":47},{"x0":800,"x1":805,"y0":0.8,"y1":0.95,"v":51},{"x0":800,"x1":805,"y0":0.95,"y1":1.1,"v":27},{"x0":800,"x1":805,"y0":1.1,"y1":1.5,"v":29},{"x0":800,"x1":805,"y0":1.5,"y1":1.7,"v":27},
{"x0":805,"x1":810,"y0":0.27,"y1":0.33,"v":25},{"x0":805,"x1":810,"y0":0.33,"y1":0.5,"v":29},{"x0":805,"x1":810,"y0":0.5,"y1":0.7,"v":37},{"x0":805,"x1":810,"y0":0.7,"y1":0.92,"v":43},{"x0":805,"x1":810,"y0":0.92,"y1":1.12,"v":25},{"x0":805,"x1":810,"y0":1.12,"y1":1.4,"v":27},{"x0":805,"x1":810,"y0":1.4,"y1":1.6,"v":25},
{"x0":810,"x1":816,"y0":0.27,"y1":0.4,"v":31},{"x0":810,"x1":816,"y0":0.4,"y1":0.55,"v":35},{"x0":810,"x1":816,"y0":0.55,"y1":0.72,"v":43},{"x0":810,"x1":816,"y0":0.72,"y1":0.85,"v":51},{"x0":810,"x1":816,"y0":0.85,"y1":0.92,"v":57},{"x0":810,"x1":816,"y0":0.92,"y1":0.97,"v":53},{"x0":810,"x1":816,"y0":0.97,"y1":1.1,"v":25},{"x0":810,"x1":816,"y0":1.1,"y1":1.4,"v":27},{"x0":810,"x1":816,"y0":1.4,"y1":1.55,"v":25},
{"x0":816,"x1":821,"y0":0.27,"y1":0.42,"v":31},{"x0":816,"x1":821,"y0":0.42,"y1":0.58,"v":41},{"x0":816,"x1":821,"y0":0.58,"y1":0.82,"v":47},{"x0":816,"x1":821,"y0":0.82,"y1":0.9,"v":53},{"x0":816,"x1":821,"y0":0.9,"y1":0.97,"v":57},{"x0":816,"x1":821,"y0":0.97,"y1":1,"v":49},{"x0":816,"x1":821,"y0":1,"y1":1.1,"v":25},{"x0":816,"x1":821,"y0":1.1,"y1":1.4,"v":27},
{"x0":821,"x1":826,"y0":0.27,"y1":0.4,"v":31},{"x0":821,"x1":826,"y0":0.4,"y1":0.55,"v":39},{"x0":821,"x1":826,"y0":0.55,"y1":0.78,"v":47},{"x0":821,"x1":826,"y0":0.78,"y1":0.9,"v":51},{"x0":821,"x1":826,"y0":0.9,"y1":0.97,"v":53},{"x0":821,"x1":826,"y0":0.97,"y1":1.02,"v":49},{"x0":821,"x1":826,"y0":1.02,"y1":1.15,"v":25},{"x0":821,"x1":826,"y0":1.15,"y1":1.4,"v":27},
{"x0":826,"x1":832,"y0":0.27,"y1":0.4,"v":31},{"x0":826,"x1":832,"y0":0.4,"y1":0.55,"v":39},{"x0":826,"x1":832,"y0":0.55,"y1":0.7,"v":45},{"x0":826,"x1":832,"y0":0.7,"y1":0.8,"v":51},{"x0":826,"x1":832,"y0":0.8,"y1":0.87,"v":57},{"x0":826,"x1":832,"y0":0.87,"y1":0.92,"v":63},{"x0":826,"x1":832,"y0":0.92,"y1":1.03,"v":71},{"x0":826,"x1":832,"y0":1.03,"y1":1.06,"v":53},{"x0":826,"x1":832,"y0":1.06,"y1":1.09,"v":49},{"x0":826,"x1":832,"y0":1.09,"y1":1.15,"v":29},{"x0":826,"x1":832,"y0":1.15,"y1":1.6,"v":27},{"x0":826,"x1":832,"y0":1.6,"y1":1.72,"v":25},
{"x0":832,"x1":840,"y0":0.27,"y1":0.4,"v":33},{"x0":832,"x1":840,"y0":0.4,"y1":0.58,"v":41},{"x0":832,"x1":840,"y0":0.58,"y1":0.8,"v":49},{"x0":832,"x1":840,"y0":0.8,"y1":0.88,"v":53},{"x0":832,"x1":840,"y0":0.88,"y1":0.95,"v":59},{"x0":832,"x1":840,"y0":0.95,"y1":1.02,"v":63},{"x0":832,"x1":840,"y0":1.02,"y1":1.05,"v":51},{"x0":832,"x1":840,"y0":1.05,"y1":1.4,"v":27},{"x0":832,"x1":840,"y0":1.4,"y1":1.55,"v":25}
]},"mark":{"type":"rect","clip":true},"encoding":{"x":{"field":"x0","type":"quantitative","scale":{"domain":[420,840],"nice":false,"zero":false},"axis":{"values":[420,480,540,600,660,720,780,840],"labelExpr":"floor(datum.value/60)+':00'","title":null,"grid":false,"domain":false,"tickColor":"#222","tickWidth":2,"tickSize":18,"labelFont":"Liberation Serif","labelFontWeight":"bold","labelFontSize":37,"labelColor":"black","labelPadding":22,"labelOverlap":false,"labelBound":false,"labelFlush":false}},"x2":{"field":"x1"},"y":{"field":"y0","type":"quantitative","scale":{"domain":[0.276,5],"nice":false,"zero":false},"axis":{"values":[1,2,3,4,5],"format":".1f","title":"Height (km)","titleFont":"Liberation Sans","titleFontWeight":"normal","titleFontSize":35,"titleColor":"black","titlePadding":24,"grid":false,"domain":false,"tickColor":"#222","tickWidth":2,"tickSize":18,"labelFont":"Liberation Serif","labelFontWeight":"bold","labelFontSize":38,"labelColor":"black","labelPadding":25,"labelOverlap":false,"labelBound":false,"labelFlush":false}},"y2":{"field":"y1"},"color":{"field":"v","type":"quantitative","scale":{"type":"threshold","domain":[0,2,4,6,8,10,12,14,16,18,20,22,24,26,28,30,32,34,36,38,40,42,44,46,48,50,52,54,56,58,60,62,64,66,68,70,72,74,76,78,80],"range":["#f8f8f8","#d0d0ee","#b4b4e6","#9898de","#7c7cd2","#5c5cc8","#3e3ec0","#2222b4","#1414b0","#0c28b4","#0838bc","#0840c0","#0858c4","#0870cc","#0890d8","#08acE4","#04d0f4","#14dcec","#28e4dc","#38eec8","#58f4a8","#78f088","#98f068","#b4f844","#d0f040","#e4e828","#f4e408","#f4c408","#f4a80c","#fc8c0c","#fc7008","#fc6408","#fc5008","#fc3c08","#fc2004","#f01004","#e01004","#cc0c00","#bc0c00","#a80800","#940400","#840000"]},"legend":null}}},{"data":{"values":[{"x":446,"y":4.5,"label":"(a)"}]},"mark":{"type":"text","font":"Liberation Serif","fontWeight":"bold","fontSize":43,"color":"black"},"encoding":{"x":{"field":"x","type":"quantitative"},"y":{"field":"y","type":"quantitative"},"text":{"field":"label"}}}]},{"width":705,"height":30,"view":{"stroke":null},"data":{"values":[{"lo":-2,"hi":0,"v":-1},{"lo":0,"hi":2,"v":1},{"lo":2,"hi":4,"v":3},{"lo":4,"hi":6,"v":5},{"lo":6,"hi":8,"v":7},{"lo":8,"hi":10,"v":9},{"lo":10,"hi":12,"v":11},{"lo":12,"hi":14,"v":13},{"lo":14,"hi":16,"v":15},{"lo":16,"hi":18,"v":17},{"lo":18,"hi":20,"v":19},{"lo":20,"hi":22,"v":21},{"lo":22,"hi":24,"v":23},{"lo":24,"hi":26,"v":25},{"lo":26,"hi":28,"v":27},{"lo":28,"hi":30,"v":29},{"lo":30,"hi":32,"v":31},{"lo":32,"hi":34,"v":33},{"lo":34,"hi":36,"v":35},{"lo":36,"hi":38,"v":37},{"lo":38,"hi":40,"v":39},{"lo":40,"hi":42,"v":41},{"lo":42,"hi":44,"v":43},{"lo":44,"hi":46,"v":45},{"lo":46,"hi":48,"v":47},{"lo":48,"hi":50,"v":49},{"lo":50,"hi":52,"v":51},{"lo":52,"hi":54,"v":53},{"lo":54,"hi":56,"v":55},{"lo":56,"hi":58,"v":57},{"lo":58,"hi":60,"v":59},{"lo":60,"hi":62,"v":61},{"lo":62,"hi":64,"v":63},{"lo":64,"hi":66,"v":65},{"lo":66,"hi":68,"v":67},{"lo":68,"hi":70,"v":69},{"lo":70,"hi":72,"v":71},{"lo":72,"hi":74,"v":73},{"lo":74,"hi":76,"v":75},{"lo":76,"hi":78,"v":77},{"lo":78,"hi":80,"v":79},{"lo":80,"hi":82,"v":81}]},"mark":{"type":"rect","stroke":"#555","strokeWidth":0.7},"encoding":{"x":{"field":"lo","type":"quantitative","scale":{"domain":[-2,82],"nice":false,"zero":false},"axis":{"values":[0,10,20,30,40,50,60,70,80],"title":null,"grid":false,"domain":false,"ticks":false,"labelFont":"Liberation Serif","labelFontWeight":"bold","labelFontSize":33,"labelColor":"black","labelPadding":6,"labelOverlap":false,"labelBound":false,"labelFlush":false}},"x2":{"field":"hi"},"color":{"field":"v","type":"quantitative","scale":{"type":"threshold","domain":[0,2,4,6,8,10,12,14,16,18,20,22,24,26,28,30,32,34,36,38,40,42,44,46,48,50,52,54,56,58,60,62,64,66,68,70,72,74,76,78,80],"range":["#f8f8f8","#d0d0ee","#b4b4e6","#9898de","#7c7cd2","#5c5cc8","#3e3ec0","#2222b4","#1414b0","#0c28b4","#0838bc","#0840c0","#0858c4","#0870cc","#0890d8","#08acE4","#04d0f4","#14dcec","#28e4dc","#38eec8","#58f4a8","#78f088","#98f068","#b4f844","#d0f040","#e4e828","#f4e408","#f4c408","#f4a80c","#fc8c0c","#fc7008","#fc6408","#fc5008","#fc3c08","#fc2004","#f01004","#e01004","#cc0c00","#bc0c00","#a80800","#940400","#840000"]},"legend":null}}}],"center":true,"bounds":"flush","spacing":109,"resolve":{"scale":{"color":"independent","x":"independent","y":"independent"}}}
